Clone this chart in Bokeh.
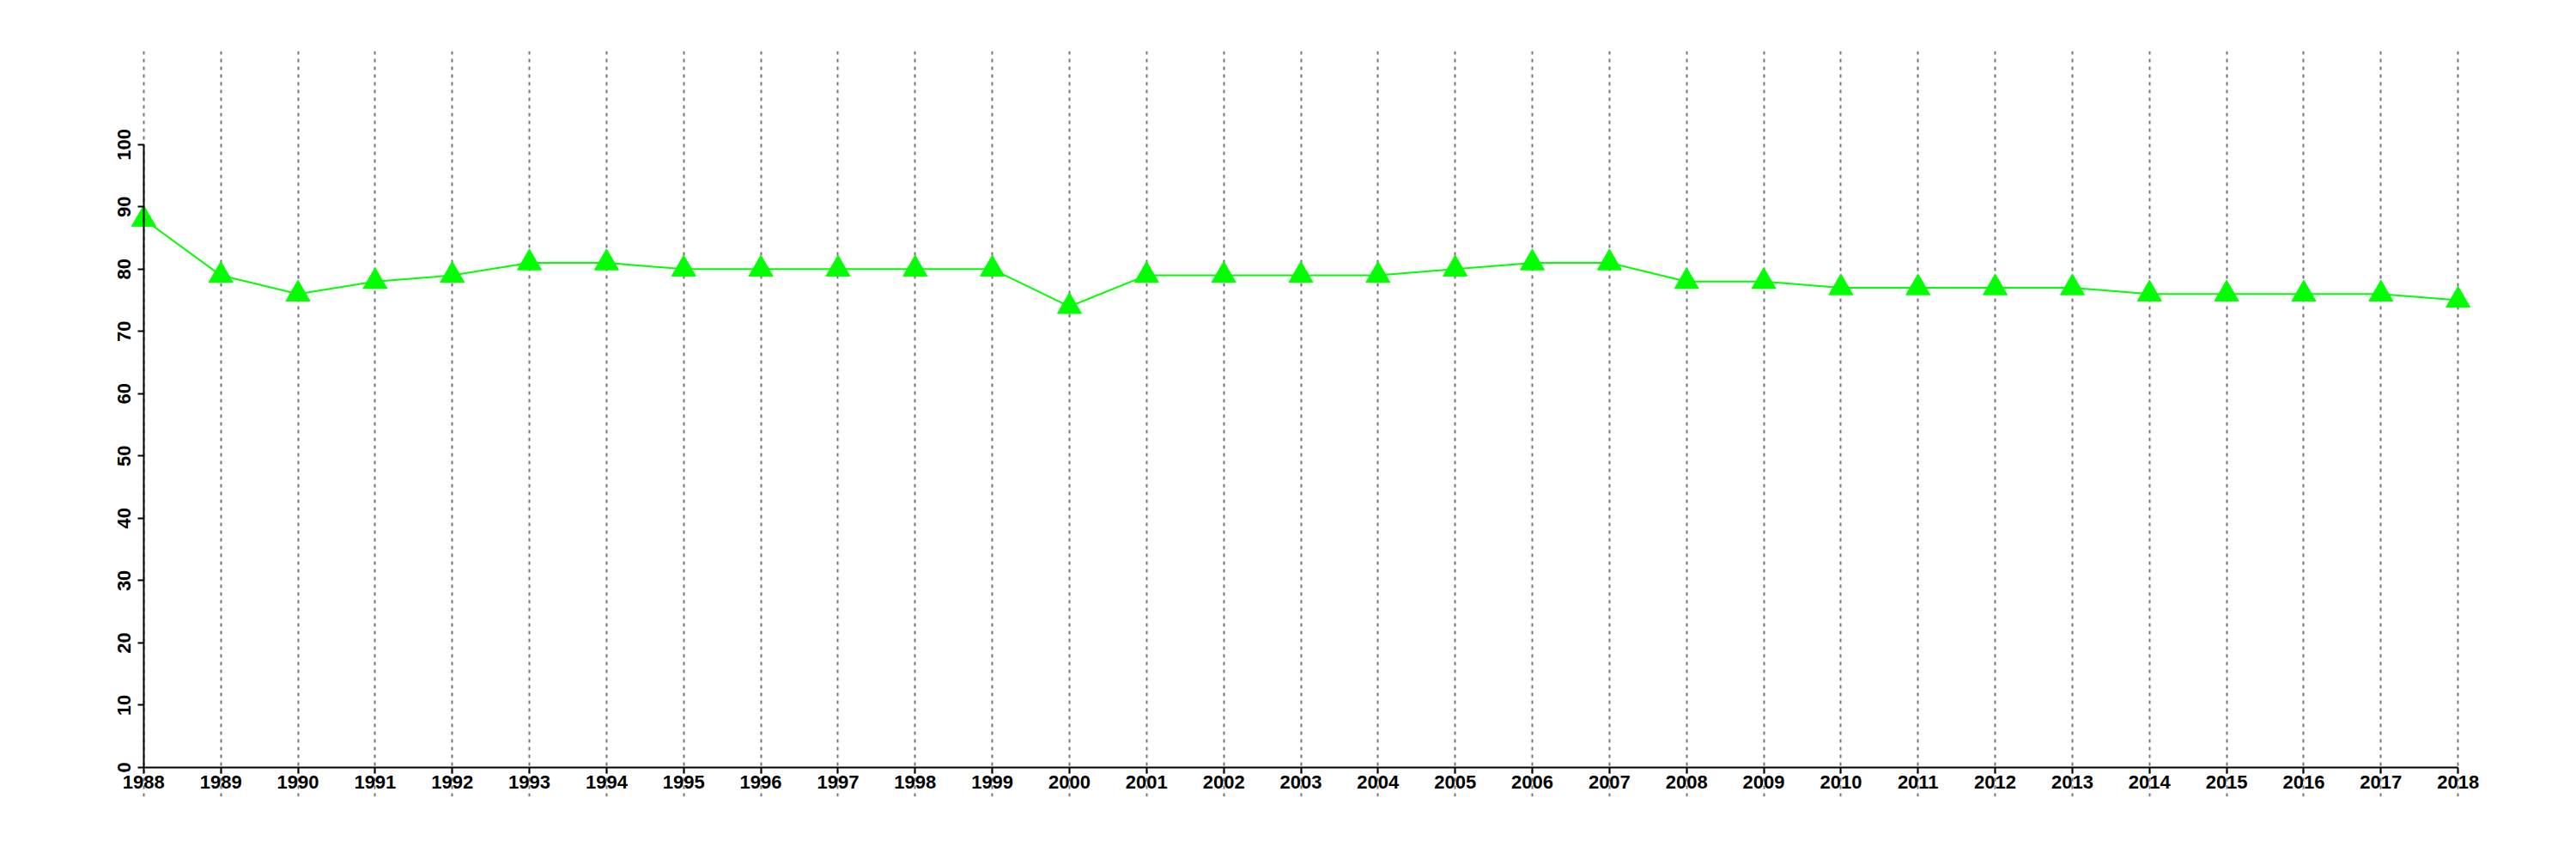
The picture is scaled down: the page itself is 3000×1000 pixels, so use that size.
import math
from bokeh.plotting import figure
from bokeh.models import Range1d, FixedTicker, ColumnDataSource
from bokeh.embed import file_html
from bokeh.resources import INLINE

years = list(range(1988, 2019))
values = [88, 79, 76, 78, 79, 81, 81, 80, 80, 80, 80, 80, 74, 79, 79, 79, 79,
          80, 81, 81, 78, 78, 77, 77, 77, 77, 76, 76, 76, 76, 75]
y_ticks = [0, 10, 20, 30, 40, 50, 60, 70, 80, 90, 100]

src = ColumnDataSource(dict(x=years, y=values))

p = figure(width=2984, height=984, output_backend="svg", toolbar_location=None,
           x_range=Range1d(1987, 2019), y_range=Range1d(-4.7, 115),
           min_border_left=77, min_border_right=32, min_border_top=59,
           min_border_bottom=57)
p.outline_line_color = None
p.background_fill_color = "white"
p.border_fill_color = "white"

p.line("x", "y", source=src, line_color="#00FF00", line_width=2)
p.scatter("x", "y", source=src, marker="triangle", size=28,
          fill_color="#00FF00", line_color="#00FF00")

font = "Liberation Sans"
for ax in (p.xaxis, p.yaxis):
    ax.axis_line_color = "black"
    ax.axis_line_width = 2
    ax.major_tick_line_color = "black"
    ax.major_tick_line_width = 2
    ax.major_tick_out = 7
    ax.major_tick_in = 0
    ax.minor_tick_line_color = None
    ax.major_label_text_font = font
    ax.major_label_text_font_style = "bold"
    ax.major_label_text_font_size = "22px"
    ax.major_label_text_color = "black"

p.xaxis.ticker = FixedTicker(ticks=years)
p.xaxis.bounds = (1988, 2018)
p.xaxis.fixed_location = 0
p.xaxis.major_label_standoff = 3

p.yaxis.ticker = FixedTicker(ticks=y_ticks)
p.yaxis.bounds = (0, 100)
p.yaxis.fixed_location = 1988
p.yaxis.major_label_orientation = "parallel"
p.yaxis.major_label_standoff = 8

p.ygrid.grid_line_color = None
p.xgrid.ticker = FixedTicker(ticks=years)
p.xgrid.grid_line_color = "#777777"
p.xgrid.grid_line_width = 2
p.xgrid.grid_line_dash = "4 5"

open("out.html", "w").write(file_html(p, INLINE))
